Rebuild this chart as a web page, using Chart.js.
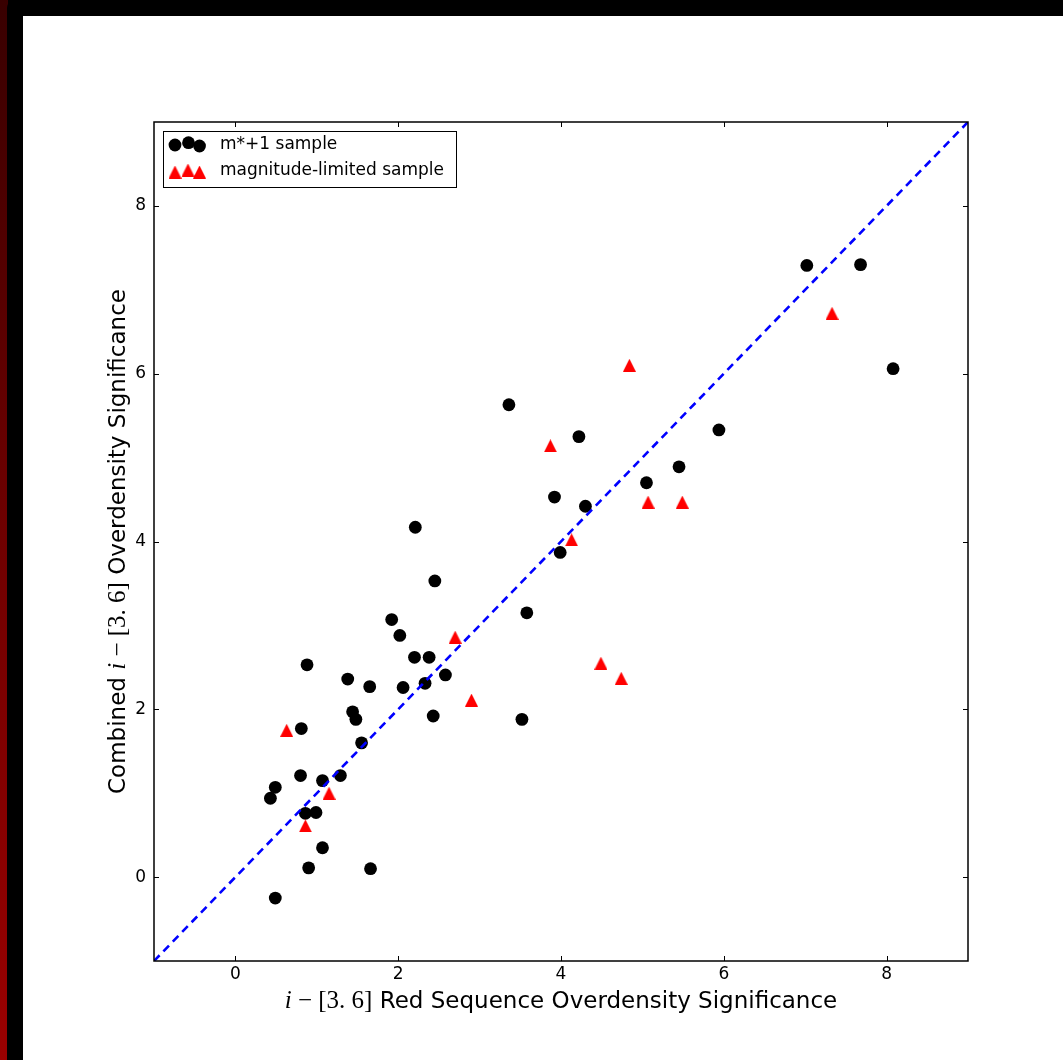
<!DOCTYPE html>
<html>
<head>
<meta charset="utf-8">
<script src="https://cdn.jsdelivr.net/npm/chart.js@4.4.0/dist/chart.umd.min.js"></script>
<style>
  html, body { margin: 0; padding: 0; width: 1063px; height: 1060px; overflow: hidden; background: #000; }
  #edge  { position: absolute; left: 0; top: 0; width: 8px; height: 1060px;
           background: linear-gradient(to bottom, #380000 0%, #6a0000 45%, #9a0000 100%); }
  #frame { position: absolute; left: 7px; top: 0; width: 1056px; height: 1060px; background: #000;
           border-top-left-radius: 8px; }
  #page  { position: absolute; left: 23px; top: 16px; width: 1040px; height: 1044px; background: #fff; }
  #wrap  { position: absolute; left: 0; top: 0; width: 1063px; height: 1060px; }
</style>
</head>
<body>
<div id="edge"></div>
<div id="frame"></div>
<div id="page"></div>
<div id="wrap"><canvas id="chart" width="1063" height="1060"></canvas></div>
<script>
// m*+1 sample: red-sequence significance (x) vs combined significance (y)
const mstarX = [7.02, 7.68, 8.08, 3.36, 4.22, 5.94, 5.45, 5.05, 3.92, 4.30,
                2.21, 3.99, 2.45, 3.58, 1.92, 2.02, 2.20, 2.38, 0.88, 2.58,
                1.38, 1.65, 2.06, 2.33, 1.44, 1.48, 2.43, 3.52, 0.81, 1.55,
                0.80, 1.29, 1.07, 0.49, 0.43, 0.86, 0.99, 1.07, 0.90, 1.66, 0.49];
const mstarY = [7.29, 7.30, 6.06, 5.63, 5.25, 5.33, 4.89, 4.70, 4.53, 4.42,
                4.17, 3.87, 3.53, 3.15, 3.07, 2.88, 2.62, 2.62, 2.53, 2.41,
                2.36, 2.27, 2.26, 2.31, 1.97, 1.88, 1.92, 1.88, 1.77, 1.60,
                1.21, 1.21, 1.15, 1.07, 0.94, 0.76, 0.77, 0.35, 0.11, 0.10, -0.25];

// magnitude-limited sample
const maglimX = [7.33, 4.84, 3.87, 5.07, 5.49, 4.13, 2.70, 4.49, 4.74, 2.90, 0.63, 1.15, 0.86];
const maglimY = [6.72, 6.10, 5.14, 4.47, 4.47, 4.02, 2.86, 2.55, 2.37, 2.11, 1.75, 1.00, 0.61];

// one-to-one reference line
const diagonal = [-1, 9];

// axes
const axisMin = -1;
const axisMax = 9;
const tickValues = [0, 2, 4, 6, 8];

const seriesLabels = ['m*+1 sample', 'magnitude-limited sample'];

const SANS = '"DejaVu Sans", Verdana, sans-serif';
const SERIF = '"Liberation Serif", "DejaVu Serif", serif';

function toPoints(xs, ys) { return xs.map((x, i) => ({ x: x, y: ys[i] })); }

function triangleMarker(size, color) {
  const c = document.createElement('canvas');
  c.width = size; c.height = size;
  const g = c.getContext('2d');
  g.fillStyle = color;
  g.beginPath();
  g.moveTo(size / 2, 0);
  g.lineTo(size, size);
  g.lineTo(0, size);
  g.closePath();
  g.fill();
  return c;
}
const triangle = triangleMarker(13, '#ff0000');
const circleRadius = 6.4;

// text made of runs in different fonts (sans text + math glyphs)
function drawRuns(ctx, runs, cx, baseline) {
  let total = 0;
  const widths = runs.map(r => { ctx.font = r[1]; const w = ctx.measureText(r[0]).width; total += w; return w; });
  let x = cx - total / 2;
  ctx.textAlign = 'left';
  ctx.textBaseline = 'alphabetic';
  runs.forEach((r, i) => { ctx.font = r[1]; ctx.fillText(r[0], x, baseline); x += widths[i]; });
}

const titleSize = 23;
const mathItalic = 'italic 25px ' + SERIF;
const mathUpright = '25px ' + SERIF;
const sansTitle = titleSize + 'px ' + SANS;
const xTitleRuns = [['i', mathItalic], [' \u2212 ', mathUpright], ['[3. 6]', mathUpright],
                    [' Red Sequence Overdensity Significance', sansTitle]];
const yTitleRuns = [['Combined ', sansTitle], ['i', mathItalic], [' \u2212 ', mathUpright],
                    ['[3. 6]', mathUpright], [' Overdensity Significance', sansTitle]];

const decorations = {
  id: 'decorations',
  afterDraw(chart) {
    const ctx = chart.ctx;
    const a = chart.chartArea;
    const xs = chart.scales.x, ys = chart.scales.y;
    ctx.save();

    // inward ticks on all four sides
    ctx.strokeStyle = '#000';
    ctx.lineWidth = 1;
    const tl = 5;
    tickValues.forEach(v => {
      const px = Math.round(xs.getPixelForValue(v)) + 0.5;
      ctx.beginPath();
      ctx.moveTo(px, a.bottom); ctx.lineTo(px, a.bottom - tl);
      ctx.moveTo(px, a.top); ctx.lineTo(px, a.top + tl);
      ctx.stroke();
      const py = Math.round(ys.getPixelForValue(v)) + 0.5;
      ctx.beginPath();
      ctx.moveTo(a.left, py); ctx.lineTo(a.left + tl, py);
      ctx.moveTo(a.right, py); ctx.lineTo(a.right - tl, py);
      ctx.stroke();
    });

    // axes frame
    ctx.lineWidth = 1.5;
    ctx.strokeRect(a.left, a.top, a.right - a.left, a.bottom - a.top);

    // axis titles
    ctx.fillStyle = '#000';
    drawRuns(ctx, xTitleRuns, (a.left + a.right) / 2, 1008);
    ctx.save();
    ctx.translate(125, (a.top + a.bottom) / 2);
    ctx.rotate(-Math.PI / 2);
    drawRuns(ctx, yTitleRuns, 0, 0);
    ctx.restore();

    // legend
    const lx = a.left + 9.5, ly = a.top + 9.5, lw = 293, lh = 56;
    ctx.fillStyle = '#fff';
    ctx.fillRect(lx, ly, lw, lh);
    ctx.lineWidth = 1;
    ctx.strokeStyle = '#000';
    ctx.strokeRect(lx, ly, lw, lh);
    const circlePos = [[175, 145], [188.5, 142.7], [199.5, 146]];
    ctx.fillStyle = '#000';
    circlePos.forEach(p => {
      ctx.beginPath(); ctx.arc(p[0], p[1], circleRadius, 0, Math.PI * 2); ctx.fill();
    });
    const triPos = [[175, 172], [188, 170], [199.5, 172]];
    triPos.forEach(p => ctx.drawImage(triangle, p[0] - triangle.width / 2, p[1] - triangle.height / 2));
    ctx.fillStyle = '#000';
    ctx.font = '17px ' + SANS;
    ctx.textAlign = 'left';
    ctx.textBaseline = 'middle';
    ctx.fillText(seriesLabels[0], 220, 145);
    ctx.fillText(seriesLabels[1], 220, 171);

    ctx.restore();
  }
};

new Chart(document.getElementById('chart'), {
  type: 'scatter',
  data: {
    datasets: [
      {
        type: 'line',
        label: 'one-to-one',
        data: toPoints(diagonal, diagonal),
        borderColor: '#0000ff',
        borderWidth: 2.6,
        borderDash: [8, 5.5],
        pointRadius: 0,
        fill: false,
        order: 0
      },
      {
        label: seriesLabels[1],
        data: toPoints(maglimX, maglimY),
        pointStyle: triangle,
        backgroundColor: '#ff0000',
        borderWidth: 0,
        order: 1
      },
      {
        label: seriesLabels[0],
        data: toPoints(mstarX, mstarY),
        pointStyle: 'circle',
        pointRadius: circleRadius,
        backgroundColor: '#000',
        borderColor: '#000',
        borderWidth: 0,
        order: 2
      }
    ]
  },
  options: {
    responsive: false,
    animation: false,
    devicePixelRatio: 1,
    layout: { padding: { left: 0, top: 122, right: 95, bottom: 0 } },
    plugins: { legend: { display: false }, tooltip: { enabled: false } },
    scales: {
      x: {
        type: 'linear', min: axisMin, max: axisMax,
        afterBuildTicks: s => { s.ticks = tickValues.map(v => ({ value: v })); },
        afterFit: s => { s.height = 99; },
        grid: { display: false, drawTicks: false },
        border: { display: false },
        ticks: { color: '#000', font: { family: SANS, size: 17 }, padding: 3, maxRotation: 0 }
      },
      y: {
        type: 'linear', min: axisMin, max: axisMax,
        afterBuildTicks: s => { s.ticks = tickValues.map(v => ({ value: v })); },
        afterFit: s => { s.width = 154; },
        grid: { display: false, drawTicks: false },
        border: { display: false },
        ticks: { color: '#000', font: { family: SANS, size: 17 }, padding: 8 }
      }
    }
  },
  plugins: [decorations]
});
</script>
</body>
</html>
